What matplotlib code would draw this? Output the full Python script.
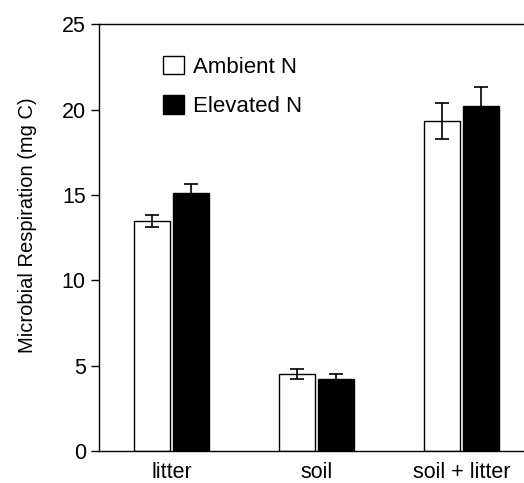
import matplotlib.pyplot as plt
import numpy as np

plt.rcParams['font.family'] = ['Liberation Sans', 'DejaVu Sans']

groups = ['litter', 'soil', 'soil + litter']
ambient = [13.5, 4.5, 19.35]
ambient_err = [0.35, 0.3, 1.05]
elevated = [15.1, 4.2, 20.2]
elevated_err = [0.55, 0.3, 1.12]

fig = plt.figure(figsize=(5.24, 4.83), dpi=100)
ax = fig.add_axes([0.189, 0.066, 0.811, 0.884])

x = np.arange(len(groups))
w = 0.25
off = 0.133
ax.bar(x - off, ambient, w, color='white', edgecolor='black', linewidth=1.0, label='Ambient N', zorder=2)
ax.bar(x + off, elevated, w, color='black', edgecolor='black', linewidth=1.0, label='Elevated N', zorder=2)
ax.errorbar(x - off, ambient, yerr=ambient_err, fmt='none', ecolor='black', elinewidth=1.2, capsize=5, capthick=1.2, zorder=3)
ax.errorbar(x + off, elevated, yerr=elevated_err, fmt='none', ecolor='black', elinewidth=1.2, capsize=5, capthick=1.2, zorder=1)

ax.set_xlim(-0.5, 2.43)
ax.set_ylim(0, 25)
ax.set_yticks([0, 5, 10, 15, 20, 25])
ax.set_xticks(x)
ax.set_xticklabels(groups)
ax.tick_params(axis='y', direction='out', length=6, width=1, labelsize=15.5)
ax.tick_params(axis='x', length=0, labelsize=15.5, pad=8)
ax.spines['right'].set_visible(False)
for s in ['top', 'left', 'bottom']:
    ax.spines[s].set_linewidth(1.0)
ax.set_ylabel('Microbial Respiration (mg C)', fontsize=14.5, labelpad=18, y=0.53)

ax.legend(loc='upper left', bbox_to_anchor=(0.125, 0.952), frameon=False, fontsize=16,
          handlelength=0.95, handleheight=0.9, handletextpad=0.4, labelspacing=0.8, borderpad=0)

fig.savefig('out.png', dpi=100)
